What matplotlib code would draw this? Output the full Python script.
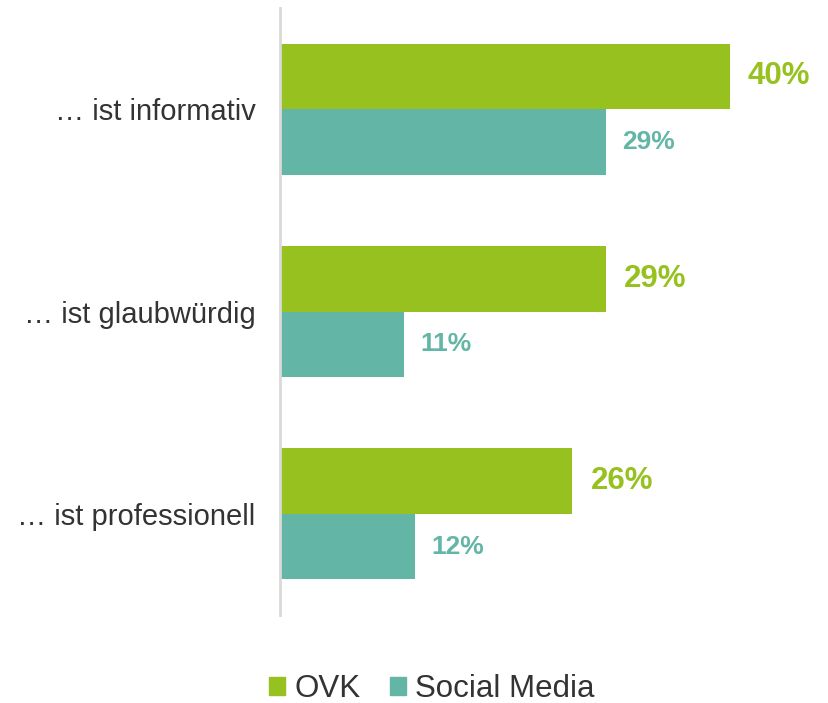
import matplotlib.pyplot as plt
from matplotlib.patches import Patch

plt.rcParams['font.family'] = ['Liberation Sans', 'DejaVu Sans']

categories = ['… ist informativ', '… ist glaubwürdig', '… ist professionell']
ovk = [40, 29, 26]
social = [29, 11, 12]
series_names = ['OVK', 'Social Media']

GREEN = '#96c11f'
TEAL = '#63b6a6'
TEXT = '#333333'

fig = plt.figure(figsize=(8.29, 7.03), dpi=100)
ax = fig.add_axes([280.5 / 829, 88 / 703, 529 / 829, 607 / 703])

bar_h = 0.323
ys = range(len(categories))
ovk_y = [y - bar_h / 2 for y in ys]
soc_y = [y + bar_h / 2 for y in ys]
ax.barh(ovk_y, ovk, height=bar_h, color=GREEN)
ax.barh(soc_y, social, height=bar_h, color=TEAL)

for y, v in zip(ovk_y, ovk):
    ax.annotate(f'{v}%', (v, y), xytext=(13, 0), textcoords='offset points',
                va='center', ha='left', fontsize=22.5, fontweight='bold', color=GREEN)
for y, v in zip(soc_y, social):
    ax.annotate(f'{v}%', (v, y), xytext=(11.5, 0), textcoords='offset points',
                va='center', ha='left', fontsize=19, fontweight='bold', color=TEAL)

# 11.225 px per percentage point
ax.set_xlim(0, 529 / 11.225)
ax.set_ylim(2.5, -0.5)
ax.set_yticks(list(ys))
ax.set_yticklabels(categories, fontsize=21, color=TEXT)
ax.tick_params(axis='y', length=0, pad=18)
ax.set_xticks([])
for side in ['top', 'right', 'bottom']:
    ax.spines[side].set_visible(False)
ax.spines['left'].set_color('#d9d9d9')
ax.spines['left'].set_linewidth(2)

handles = [Patch(color=GREEN), Patch(color=TEAL)]
fig.legend(handles, series_names, loc='center', bbox_to_anchor=(432 / 829, 14 / 703),
           ncol=2, frameon=False, fontsize=22.5, handlelength=0.5, handleheight=0.5,
           handletextpad=0.3, columnspacing=0.95, labelcolor=TEXT, borderpad=0.05)

fig.savefig('out.png', dpi=100)
